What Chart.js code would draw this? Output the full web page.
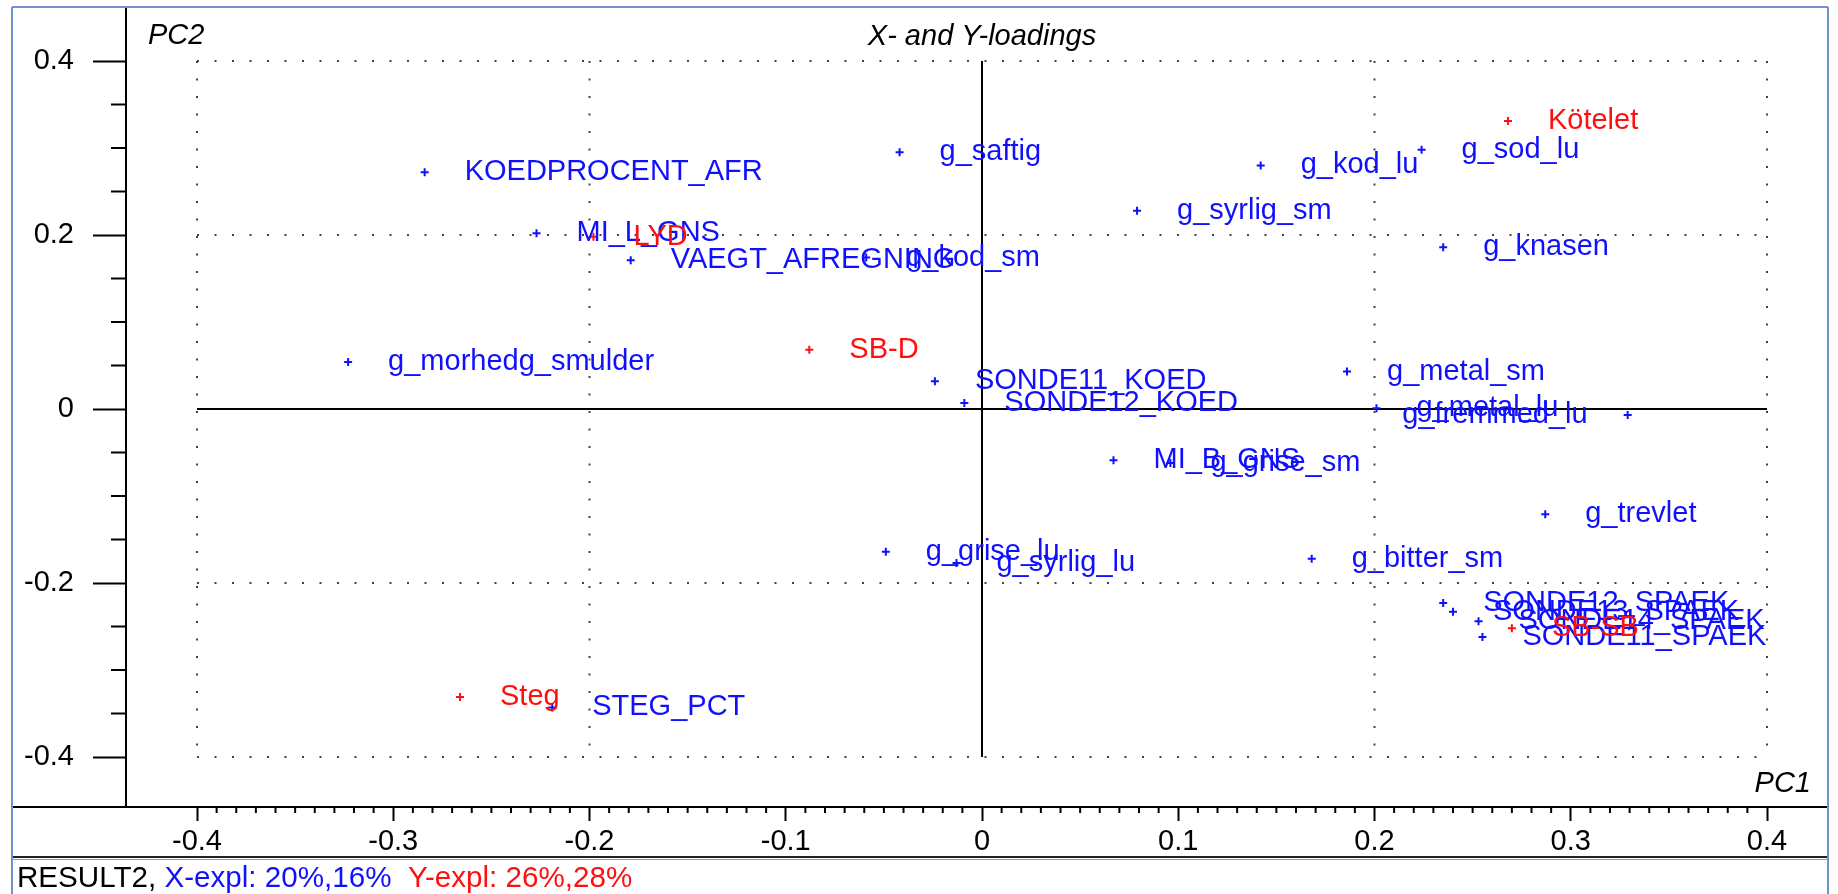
<!DOCTYPE html>
<html>
<head>
<meta charset="utf-8">
<script src="https://cdn.jsdelivr.net/npm/chart.js@4.4.1/dist/chart.umd.min.js"></script>
<style>
  html, body { margin: 0; padding: 0; background: #fff; }
  canvas { display: block; }
</style>
</head>
<body>
<canvas id="loadings" width="1838" height="894" style="width:1838px;height:894px"></canvas>
<script>
// X-loadings (blue)
const xNames = ['KOEDPROCENT_AFR', 'MI_L_GNS', 'VAEGT_AFREGNING', 'g_kod_sm', 'g_morhedg_smulder',
    'g_saftig', 'g_syrlig_sm', 'g_kod_lu', 'g_sod_lu', 'g_knasen', 'SONDE11_KOED', 'SONDE12_KOED',
    'g_metal_sm', 'g_metal_lu', 'g_fremmed_lu', 'MI_B_GNS', 'g_grise_sm', 'g_trevlet', 'g_grise_lu',
    'g_syrlig_lu', 'g_bitter_sm', 'STEG_PCT', 'SONDE12_SPAEK', 'SONDE13_SPAEK', 'SONDE14_SPAEK', 'SONDE11_SPAEK'];
const xPC1 = [-0.284, -0.227, -0.179, -0.059, -0.323, -0.042, 0.079, 0.142, 0.224, 0.235, -0.024, -0.009,
    0.186, 0.201, 0.329, 0.067, 0.096, 0.287, -0.049, -0.013, 0.168, -0.219, 0.235, 0.240, 0.253, 0.255];
const xPC2 = [0.272, 0.202, 0.171, 0.174, 0.054, 0.295, 0.228, 0.280, 0.298, 0.186, 0.032, 0.007,
    0.043, 0.001, -0.007, -0.059, -0.062, -0.121, -0.164, -0.177, -0.172, -0.343, -0.223, -0.233, -0.244, -0.262];

// Y-loadings (red)
const yNames = ['Kötelet', 'LYD', 'SB-D', 'Steg', 'SB-SB'];
const yPC1 = [0.268, -0.198, -0.088, -0.266, 0.270];
const yPC2 = [0.331, 0.198, 0.068, -0.331, -0.252];

const xTicks = [-0.4, -0.3, -0.2, -0.1, 0, 0.1, 0.2, 0.3, 0.4];
const xTickLabels = ['-0.4', '-0.3', '-0.2', '-0.1', '0', '0.1', '0.2', '0.3', '0.4'];
const yTicks = [0.4, 0.2, 0, -0.2, -0.4];
const yTickLabels = ['0.4', '0.2', '0', '-0.2', '-0.4'];
const gridLines = [-0.4, -0.2, 0.2, 0.4];

const FONT = '"Liberation Sans", Arial, sans-serif';
const BLUE = '#1010ff';
const RED = '#ff1010';

const toPoints = (xs, ys) => xs.map((x, i) => ({ x: x, y: ys[i] }));

const dotted = (ctx, x1, y1, x2, y2) => {
    ctx.save();
    ctx.strokeStyle = '#444';
    ctx.lineWidth = 2;
    ctx.setLineDash([2, 15.5]);
    ctx.beginPath();
    ctx.moveTo(x1, y1);
    ctx.lineTo(x2, y2);
    ctx.stroke();
    ctx.restore();
};

const line = (ctx, x1, y1, x2, y2, color, width) => {
    ctx.save();
    ctx.strokeStyle = color;
    ctx.lineWidth = width;
    ctx.beginPath();
    ctx.moveTo(x1, y1);
    ctx.lineTo(x2, y2);
    ctx.stroke();
    ctx.restore();
};

const noPad = (scale) => {
    scale.paddingTop = 0;
    scale.paddingBottom = 0;
    scale.paddingLeft = 0;
    scale.paddingRight = 0;
};

const backdrop = {
    id: 'backdrop',
    beforeDraw(chart) {
        const { ctx, width, height } = chart;
        ctx.save();
        ctx.fillStyle = '#fff';
        ctx.fillRect(0, 0, width, height);
        ctx.restore();
    },
    beforeDatasetsDraw(chart) {
        const { ctx, scales: { x, y } } = chart;
        const top = y.getPixelForValue(0.4), bottom = y.getPixelForValue(-0.4);
        const left = x.getPixelForValue(-0.4), right = x.getPixelForValue(0.4);
        gridLines.forEach((v) => {
            const px = x.getPixelForValue(v);
            dotted(ctx, px, top, px, bottom);
            const py = y.getPixelForValue(v);
            dotted(ctx, left, py, right, py);
        });
        const x0 = x.getPixelForValue(0), y0 = y.getPixelForValue(0);
        line(ctx, x0, top, x0, bottom, '#000', 2);
        line(ctx, left, y0, right, y0, '#000', 2);
    },
    afterDatasetsDraw(chart) {
        const { ctx, chartArea } = chart;
        ctx.save();
        ctx.font = '29px ' + FONT;
        ctx.textBaseline = 'middle';
        [[xNames, 0, BLUE], [yNames, 1, RED]].forEach(([names, idx, color]) => {
            const meta = chart.getDatasetMeta(idx);
            ctx.fillStyle = color;
            meta.data.forEach((pt, i) => {
                const w = ctx.measureText(names[i]).width;
                if (pt.x + 40 + w > chartArea.right - 10) {
                    ctx.textAlign = 'right';
                    ctx.fillText(names[i], pt.x - 40, pt.y);
                } else {
                    ctx.textAlign = 'left';
                    ctx.fillText(names[i], pt.x + 40, pt.y);
                }
            });
        });
        ctx.restore();
    },
    afterDraw(chart) {
        const { ctx, chartArea, scales: { x, y } } = chart;
        // minor ticks
        for (let k = -40; k <= 40; k++) {
            if (k % 10 === 0) continue;
            const px = x.getPixelForValue(k / 100);
            line(ctx, px, chartArea.bottom, px, chartArea.bottom + 6, '#000', 2);
        }
        for (let k = -7; k <= 7; k += 2) {
            const py = y.getPixelForValue(k * 0.05);
            line(ctx, chartArea.left - 15, py, chartArea.left, py, '#000', 2);
        }
        for (let k = -3; k <= 3; k += 2) {
            const py = y.getPixelForValue(k * 0.1);
            line(ctx, chartArea.left - 15, py, chartArea.left, py, '#000', 2);
        }
        // frame
        line(ctx, 12, chartArea.bottom, chartArea.right, chartArea.bottom, '#000', 2);
        line(ctx, 12, 857, 1828, 857, '#222', 2);
        line(ctx, 12, 859.5, 1828, 859.5, '#999', 1);
        line(ctx, 12, 7, 1828, 7, '#6f93cf', 2);
        line(ctx, 12, 7, 12, 894, '#6f93cf', 2);
        line(ctx, 1828, 7, 1828, 894, '#6f93cf', 2);

        ctx.save();
        ctx.font = 'italic 29px ' + FONT;
        ctx.fillStyle = '#000';
        ctx.textBaseline = 'middle';
        ctx.textAlign = 'left';
        ctx.fillText('PC2', 148, 36);
        ctx.textAlign = 'center';
        ctx.fillText('X- and Y-loadings', x.getPixelForValue(0), 37);
        ctx.textAlign = 'right';
        ctx.fillText('PC1', 1811, 784);

        ctx.font = '29.6px ' + FONT;
        ctx.textAlign = 'left';
        let fx = 17;
        [['RESULT2, ', '#000'], ['X-expl: 20%,16%', BLUE], ['  Y-expl: 26%,28%', RED]].forEach(([t, c]) => {
            ctx.fillStyle = c;
            ctx.fillText(t, fx, 879);
            fx += ctx.measureText(t).width;
        });
        ctx.restore();
    },
};

new Chart(document.getElementById('loadings'), {
    type: 'scatter',
    data: {
        datasets: [{
            label: 'X-loadings',
            data: toPoints(xPC1, xPC2),
            pointStyle: 'cross',
            radius: 4,
            borderWidth: 2,
            borderColor: BLUE,
            backgroundColor: BLUE,
        }, {
            label: 'Y-loadings',
            data: toPoints(yPC1, yPC2),
            pointStyle: 'cross',
            radius: 4,
            borderWidth: 2,
            borderColor: RED,
            backgroundColor: RED,
        }],
    },
    options: {
        responsive: false,
        animation: false,
        devicePixelRatio: 1,
        layout: { padding: { left: 12, top: 7, right: 10, bottom: 0 } },
        plugins: { legend: { display: false }, tooltip: { enabled: false } },
        scales: {
            x: {
                type: 'linear',
                position: 'bottom',
                min: -0.43618,
                max: 0.43108,
                afterBuildTicks: (scale) => { scale.ticks = xTicks.map((v) => ({ value: v })); },
                afterFit: (scale) => { scale.height = 87; noPad(scale); },
                ticks: {
                    autoSkip: false,
                    maxRotation: 0,
                    padding: 4,
                    color: '#000',
                    font: { family: FONT, size: 29 },
                    callback: (v, i) => xTickLabels[i],
                },
                grid: { drawOnChartArea: false, tickLength: 14, tickWidth: 2, tickColor: '#000' },
                border: { display: true, color: '#000', width: 2 },
            },
            y: {
                type: 'linear',
                position: 'left',
                min: -0.45747,
                max: 0.46207,
                afterBuildTicks: (scale) => { scale.ticks = yTicks.map((v) => ({ value: v })); },
                afterFit: (scale) => { scale.width = 114; noPad(scale); },
                ticks: {
                    autoSkip: false,
                    padding: 19,
                    color: '#000',
                    font: { family: FONT, size: 29 },
                    callback: (v, i) => yTickLabels[i],
                },
                grid: { drawOnChartArea: false, tickLength: 33, tickWidth: 2, tickColor: '#000' },
                border: { display: true, color: '#000', width: 2 },
            },
        },
    },
    plugins: [backdrop],
});
</script>
</body>
</html>
